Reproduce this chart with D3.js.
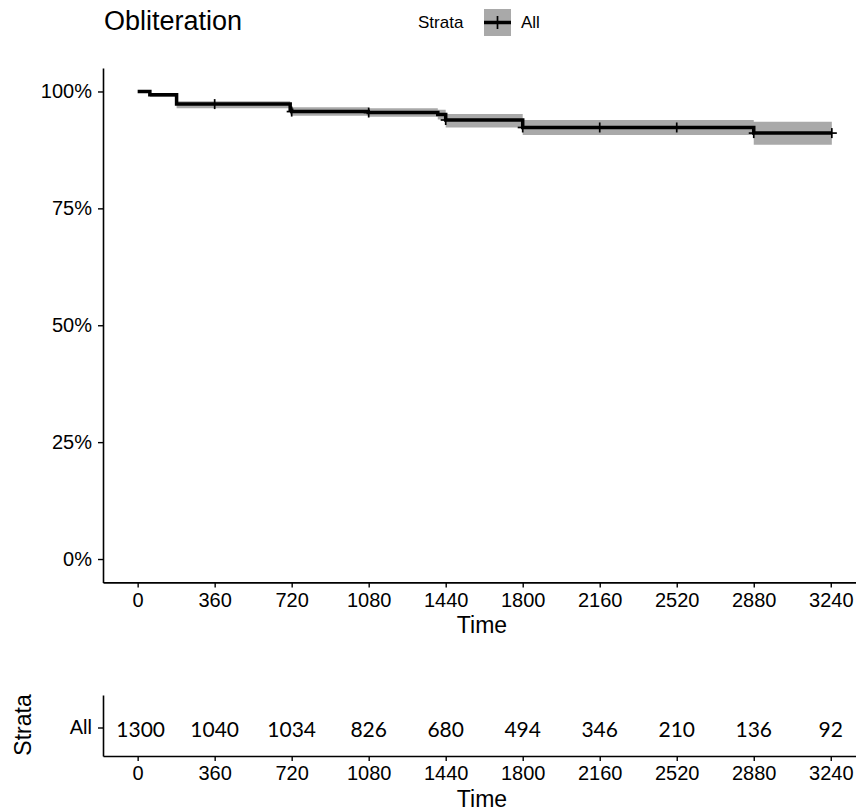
<!DOCTYPE html>
<html><head><meta charset="utf-8">
<script src="https://cdn.jsdelivr.net/npm/d3@7"></script>
<style>
body{margin:0;background:#fff;}
text{font-family:"Liberation Sans",Arial,sans-serif;fill:#000;}
</style></head>
<body>
<svg id="chart" width="856" height="812"></svg>
<script>
// ---- data ----
const times = [0, 57, 182, 713, 720, 1078, 1403, 1440, 1800, 2880, 3245];
const surv  = [1, 0.993, 0.973, 0.960, 0.957, 0.955, 0.951, 0.939, 0.923, 0.911, 0.911];
const lower = [1, 0.988, 0.964, 0.951, 0.948, 0.946, 0.940, 0.923, 0.907, 0.886, 0.886];
const upper = [1, 0.997, 0.979, 0.968, 0.966, 0.964, 0.961, 0.952, 0.939, 0.935, 0.935];
const censorTimes = [360, 720, 1080, 1440, 1800, 2160, 2520, 2880, 3245];
const xTicks = [0, 360, 720, 1080, 1440, 1800, 2160, 2520, 2880, 3240];
const yTicks = [0, 0.25, 0.5, 0.75, 1];
const riskTimes = [0, 360, 720, 1080, 1440, 1800, 2160, 2520, 2880, 3240];
const riskCounts = [1300, 1040, 1034, 826, 680, 494, 346, 210, 136, 92];
const strata = ["All"];

const svg = d3.select("#chart");
const x = d3.scaleLinear().domain([-162, 3358]).range([103, 856]);
const y = d3.scaleLinear().domain([-0.05, 1.05]).range([582.4, 68.1]);

function survAt(t){ let v = surv[0]; for(let i=0;i<times.length;i++){ if(times[i]<=t) v=surv[i]; } return v; }

// confidence band
const bandData = times.map((t,i)=>({t, lo:lower[i], hi:upper[i]}));
const area = d3.area().curve(d3.curveStepAfter).x(d=>x(d.t)).y0(d=>y(d.lo)).y1(d=>y(d.hi));
svg.append("path").datum(bandData).attr("d", area).attr("fill", "#a9a9a9");

// survival line
const line = d3.line().curve(d3.curveStepAfter).x((d,i)=>x(times[i])).y(d=>y(d));
svg.append("path").datum(surv).attr("d", line).attr("fill","none").attr("stroke","#000").attr("stroke-width",3.5);

// censor marks
const cg = svg.append("g").attr("stroke","#000").attr("stroke-width",1.7);
censorTimes.forEach(t=>{
  const cx = x(t), cy = y(survAt(t));
  cg.append("line").attr("x1",cx-5).attr("x2",cx+5).attr("y1",cy).attr("y2",cy);
  cg.append("line").attr("x1",cx).attr("x2",cx).attr("y1",cy-5).attr("y2",cy+5);
});

// axes main
const fmtPct = d3.format(".0%");
const fmtInt = d3.format("d");
const xAxis = svg.append("g").attr("transform","translate(0,582.4)")
  .call(d3.axisBottom(x).tickValues(xTicks).tickFormat(fmtInt).tickSize(5).tickPadding(5.4).tickSizeOuter(0));
const yAxis = svg.append("g").attr("transform","translate(103,0)")
  .call(d3.axisLeft(y).tickValues(yTicks).tickFormat(fmtPct).tickSize(5).tickPadding(6).tickSizeOuter(0));
[xAxis,yAxis].forEach(a=>{
  a.selectAll("text").style("font-size","20px").style("font-family","Liberation Sans, Arial, sans-serif").attr("fill","#000");
  a.selectAll("line").attr("stroke","#000").attr("stroke-width",1.4);
  a.select(".domain").attr("stroke","#000").attr("stroke-width",1.6);
});
svg.append("text").attr("x",482).attr("y",633).attr("text-anchor","middle").style("font-size","23px").text("Time");

// title
svg.append("text").attr("x",104).attr("y",30).style("font-size","27px").text("Obliteration");

// legend
svg.append("text").attr("x",418).attr("y",28).style("font-size","17px").text("Strata");
svg.append("rect").attr("x",484).attr("y",9).attr("width",27).attr("height",27).attr("fill","#a9a9a9");
svg.append("line").attr("x1",484).attr("x2",511).attr("y1",22.5).attr("y2",22.5).attr("stroke","#000").attr("stroke-width",3.5);
svg.append("line").attr("x1",497.5).attr("x2",497.5).attr("y1",16).attr("y2",29).attr("stroke","#000").attr("stroke-width",1.7);
svg.append("text").attr("x",521).attr("y",28).style("font-size","17px").text(strata[0]);

// risk table
const ry = d3.scalePoint().domain(strata).range([728,728]);
const rxAxis = svg.append("g").attr("transform","translate(0,756)")
  .call(d3.axisBottom(x).tickValues(xTicks).tickFormat(fmtInt).tickSize(5).tickPadding(4.8).tickSizeOuter(0));
const ryScale = d3.scaleLinear().domain([0,1]).range([756,695]);
const ryAxis = svg.append("g").attr("transform","translate(103,0)")
  .call(d3.axisLeft(ryScale).tickValues([]).tickSizeOuter(0));
ryAxis.append("line").attr("x1",-5).attr("x2",0).attr("y1",ry("All")).attr("y2",ry("All")).attr("stroke","#000").attr("stroke-width",1.4);
ryAxis.append("text").attr("x",-11).attr("y",ry("All")).attr("dy","0.32em").attr("text-anchor","end").style("font-size","20px").attr("fill","#000").text("All");
[rxAxis,ryAxis].forEach(a=>{
  a.selectAll("text").style("font-size","20px").style("font-family","Liberation Sans, Arial, sans-serif").attr("fill","#000");
  a.selectAll(".tick line").attr("stroke","#000").attr("stroke-width",1.4);
  a.select(".domain").attr("stroke","#000").attr("stroke-width",1.6);
});
svg.append("g").selectAll("text").data(riskCounts).join("text")
  .attr("x",(d,i)=>x(riskTimes[i])+ (i===0?3:0)).attr("y",737).attr("text-anchor","middle")
  .style("font-family","Lato, 'Open Sans', sans-serif").style("font-size","21px").text(d=>d);
svg.append("text").attr("x",482).attr("y",807).attr("text-anchor","middle").style("font-size","23px").text("Time");
svg.append("text").attr("transform","translate(31,725) rotate(-90)").attr("text-anchor","middle").style("font-size","23px").text("Strata");
</script>
</body></html>
